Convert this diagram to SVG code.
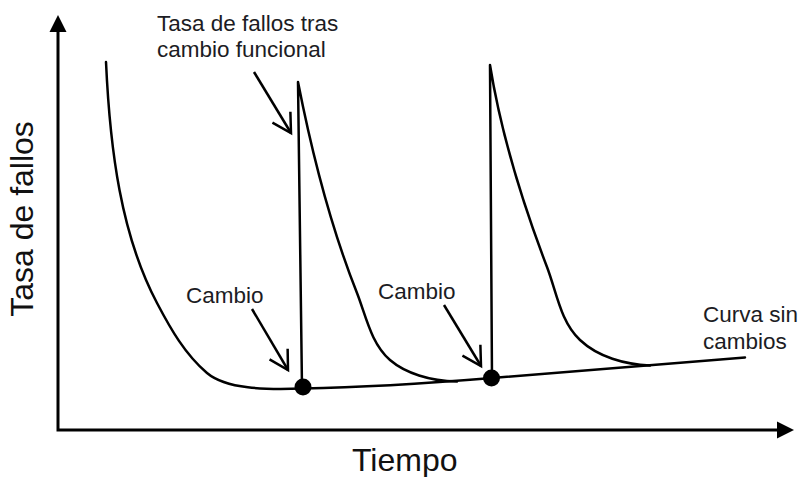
<svg xmlns="http://www.w3.org/2000/svg" width="801" height="477" viewBox="0 0 801 477">
  <style>
    .axis { stroke: #000; stroke-width: 3; fill: none; }
    .curve { stroke: #000; stroke-width: 2.5; fill: none; stroke-linejoin: round; stroke-linecap: round; }
    .pointer { stroke: #000; stroke-width: 2.5; fill: none; marker-end: url(#vhead); }
    .lbl { font-family: "Liberation Sans", Arial, sans-serif; font-size: 22.5px; fill: #1c1c24; }
    .big { font-family: "Liberation Sans", Arial, sans-serif; font-size: 32px; fill: #111; }
  </style>
  <defs>
    <marker id="vhead" markerUnits="userSpaceOnUse" orient="auto" refX="0" refY="0" markerWidth="30" markerHeight="30" overflow="visible">
      <path d="M -18.5 -10.5 L 0 0 L -18.5 10.5" fill="none" stroke="#000" stroke-width="2.5" stroke-linejoin="miter"/>
    </marker>
  </defs>
  <rect width="801" height="477" fill="#fff"/>

  <g id="axes">
    <polyline class="axis" points="58,28 58,430 780,430"/>
    <polygon points="58,15 49.5,32 66.5,32" fill="#000"/>
    <polygon points="794,430 777,421.5 777,438.5" fill="#000"/>
  </g>

  <g id="curves">
    <path id="curva-inicial" class="curve" d="M106 62 C110 150 121 235 157 303 C170.5 328.7 185 354.4 207 373 C226 389 265 390 303 388.5"/>
    <path id="curva-sin-cambios" class="curve" d="M303 388.5 C360 387.5 420 384 492 378 L745 357.5"/>
    <path id="pico-1" class="curve" d="M302 388 L298 82 C312 153.6 330 225 357 293 C366 316 371 343.5 390 360 C405 373 430 381 457 381.5"/>
    <path id="pico-2" class="curve" d="M492 378 L490 65 C501 134 522 201.5 547 267 C556.6 292 560.3 321.6 580 340 C598 357 625 364.5 650 365.5"/>
  </g>

  <g id="cambio-1">
    <circle cx="303" cy="387" r="8.5" fill="#000"/>
  </g>
  <g id="cambio-2">
    <circle cx="491.5" cy="378" r="8.5" fill="#000"/>
  </g>

  <g id="connectors">
    <line class="pointer" x1="254" y1="72" x2="291" y2="133"/>
    <line class="pointer" x1="252" y1="309" x2="288" y2="370"/>
    <line class="pointer" x1="444" y1="305" x2="481" y2="366"/>
  </g>

  <g id="label-tasa-tras-cambio">
    <text class="lbl" x="157" y="31">Tasa de fallos tras</text>
    <text class="lbl" x="157" y="57">cambio funcional</text>
  </g>
  <g id="label-cambio-1">
    <text class="lbl" x="186" y="303">Cambio</text>
  </g>
  <g id="label-cambio-2">
    <text class="lbl" x="378" y="299">Cambio</text>
  </g>
  <g id="label-curva-sin-cambios">
    <text class="lbl" x="703" y="322">Curva sin</text>
    <text class="lbl" x="703" y="349">cambios</text>
  </g>
  <g id="label-eje-x">
    <text class="big" x="352" y="471">Tiempo</text>
  </g>
  <g id="label-eje-y">
    <text class="big" transform="translate(33,219) rotate(-90)" text-anchor="middle">Tasa de fallos</text>
  </g>
</svg>
